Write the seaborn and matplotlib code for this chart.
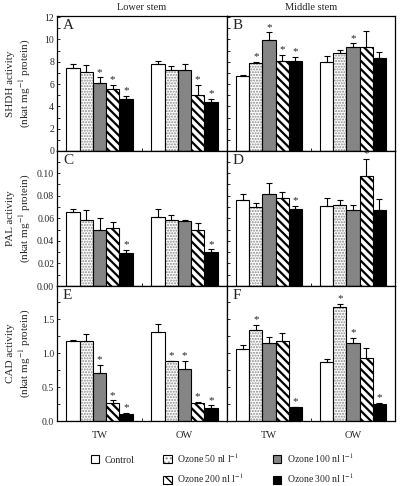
import numpy as np
import pandas as pd
import matplotlib
matplotlib.use("Agg")
import matplotlib.pyplot as plt
import seaborn as sns
from matplotlib.patches import Rectangle, Patch
from matplotlib.legend_handler import HandlerTuple
from matplotlib.ticker import MultipleLocator, FixedLocator

# ---------------- data ----------------
treatments = ["Control", "Ozone 50", "Ozone 100", "Ozone 200", "Ozone 300"]
legend_labels = ["Control", "Ozone 50 nl l$^{-1}$", "Ozone 100 nl l$^{-1}$",
                 "Ozone 200 nl l$^{-1}$", "Ozone 300 nl l$^{-1}$"]
woods = ["TW", "OW"]
columns_titles = ["Lower stem", "Middle stem"]

# Panel A: SHDH, lower stem
A_tw = [7.48, 7.05, 6.06, 5.52, 4.70]
A_tw_err = [0.30, 0.64, 0.54, 0.42, 0.21]
A_ow = [7.84, 7.27, 7.30, 5.00, 4.40]
A_ow_err = [0.21, 0.33, 0.54, 0.94, 0.27]
A_tw_sig = [0, 0, 1, 1, 1]
A_ow_sig = [0, 0, 0, 1, 1]

# Panel B: SHDH, middle stem
B_tw = [6.69, 7.87, 9.92, 8.05, 8.08]
B_tw_err = [0.12, 0.09, 0.72, 0.54, 0.36]
B_ow = [7.96, 8.74, 9.32, 9.29, 8.38]
B_ow_err = [0.51, 0.33, 0.33, 1.50, 0.51]
B_tw_sig = [0, 1, 1, 1, 1]
B_ow_sig = [0, 0, 1, 0, 0]

# Panel C: PAL, lower stem
C_tw = [0.0658, 0.0586, 0.0500, 0.0512, 0.0292]
C_tw_err = [0.0027, 0.0083, 0.0104, 0.0056, 0.0027]
C_ow = [0.0610, 0.0586, 0.0574, 0.0500, 0.0298]
C_ow_err = [0.0075, 0.0040, 0.0006, 0.0054, 0.0027]
C_tw_sig = [0, 0, 0, 0, 1]
C_ow_sig = [0, 0, 0, 0, 1]

# Panel D: PAL, middle stem
D_tw = [0.0762, 0.0696, 0.0810, 0.0783, 0.0679]
D_tw_err = [0.0050, 0.0042, 0.0104, 0.0048, 0.0033]
D_ow = [0.0705, 0.0720, 0.0676, 0.0973, 0.0670]
D_ow_err = [0.0077, 0.0042, 0.0039, 0.0149, 0.0098]
D_tw_sig = [0, 0, 0, 0, 1]
D_ow_sig = [0, 0, 0, 1, 0]

# Panel E: CAD, lower stem
E_tw = [1.185, 1.185, 0.703, 0.270, 0.103]
E_tw_err = [0.010, 0.100, 0.120, 0.035, 0.020]
E_ow = [1.313, 0.880, 0.762, 0.260, 0.190]
E_ow_err = [0.110, 0.010, 0.120, 0.025, 0.040]
E_tw_sig = [0, 0, 1, 1, 1]
E_ow_sig = [0, 1, 1, 1, 1]

# Panel F: CAD, middle stem
F_tw = [1.062, 1.343, 1.146, 1.176, 0.200]
F_tw_err = [0.064, 0.074, 0.098, 0.118, 0.010]
F_ow = [0.866, 1.682, 1.156, 0.935, 0.256]
F_ow_err = [0.049, 0.045, 0.064, 0.142, 0.015]
F_tw_sig = [0, 1, 0, 0, 1]
F_ow_sig = [0, 1, 1, 0, 1]

panels = [
    ("A", A_tw, A_tw_err, A_ow, A_ow_err, A_tw_sig, A_ow_sig),
    ("B", B_tw, B_tw_err, B_ow, B_ow_err, B_tw_sig, B_ow_sig),
    ("C", C_tw, C_tw_err, C_ow, C_ow_err, C_tw_sig, C_ow_sig),
    ("D", D_tw, D_tw_err, D_ow, D_ow_err, D_tw_sig, D_ow_sig),
    ("E", E_tw, E_tw_err, E_ow, E_ow_err, E_tw_sig, E_ow_sig),
    ("F", F_tw, F_tw_err, F_ow, F_ow_err, F_tw_sig, F_ow_sig),
]
row_ylabels = ["SHDH activity\n(nkat mg$^{-1}$ protein)",
               "PAL activity\n(nkat mg$^{-1}$ protein)",
               "CAD activity\n(nkat mg$^{-1}$ protein)"]
row_ylims = [(0, 12.1), (0, 0.1195), (0, 1.99)]
row_major = [2, 0.02, 0.5]
row_minor = [1, 0.01, 0.25]
row_fmt = ["{:.0f}", "{:.2f}", "{:.1f}"]

# ---------------- style ----------------
sns.set_theme(style="ticks")
plt.rcParams["font.family"] = ["Liberation Serif", "DejaVu Serif"]
plt.rcParams["mathtext.fontset"] = "stix"
plt.rcParams["hatch.linewidth"] = 1.0

face = {"Control": "white", "Ozone 50": "white", "Ozone 100": "#858585",
        "Ozone 200": "white", "Ozone 300": "black"}
W, H = 400, 486
fig = plt.figure(figsize=(W / 100, H / 100), dpi=100)

lefts = [57, 227]
rights = [227, 395]
tops = [16, 151, 286]
bots = [151, 286, 421]


def style_bar(bar, t, ax):
    if t == "Ozone 50":
        bar.set_facecolor("white")
        bar.set_edgecolor("#8a8a8a")
        bar.set_hatch("......")
        bar.set_linewidth(0)
        ax.add_patch(Rectangle(bar.get_xy(), bar.get_width(), bar.get_height(),
                               fill=False, ec="black", lw=0.8, zorder=bar.get_zorder() + 0.1))
    elif t == "Ozone 200":
        bar.set_facecolor("white")
        bar.set_edgecolor("black")
        bar.set_hatch("\\\\\\\\")
        if hasattr(bar, "set_hatch_linewidth"):
            bar.set_hatch_linewidth(1.6)
    else:
        bar.set_facecolor(face[t])
        bar.set_edgecolor("black")


for idx, (letter, tw, twe, ow, owe, tws, ows) in enumerate(panels):
    r, c = divmod(idx, 2)
    ax = fig.add_axes([lefts[c] / W, 1 - bots[r] / H,
                       (rights[c] - lefts[c]) / W, (bots[r] - tops[r]) / H])
    df = pd.DataFrame({
        "wood": np.repeat(woods, len(treatments)),
        "treatment": treatments * 2,
        "value": list(tw) + list(ow),
    })
    sns.barplot(data=df, x="wood", y="value", hue="treatment", order=woods,
                hue_order=treatments, width=0.78, errorbar=None, ax=ax,
                legend=False, saturation=1, palette=face, edgecolor="black",
                linewidth=0.8)
    errs = [twe, owe]
    sigs = [tws, ows]
    ymax = row_ylims[r][1]
    bar_conts = list(ax.containers)
    for ti, cont in enumerate(bar_conts):
        t = treatments[ti]
        for wi, bar in enumerate(cont):
            style_bar(bar, t, ax)
            x = bar.get_x() + bar.get_width() / 2
            y = bar.get_height()
            e = errs[wi][ti]
            ax.errorbar([x], [y], yerr=[[0], [e]], fmt="none", ecolor="black",
                        elinewidth=0.8, capsize=2.2, capthick=0.8, zorder=5)
            if sigs[wi][ti]:
                ax.text(x, y + e + ymax * 0.005, "*", ha="center", va="bottom",
                        fontsize=8, zorder=6)

    ax.set_xlim(-0.5, 1.5)
    ax.set_ylim(*row_ylims[r])
    ax.yaxis.set_major_locator(MultipleLocator(row_major[r]))
    ax.yaxis.set_minor_locator(MultipleLocator(row_minor[r]))
    ax.xaxis.set_minor_locator(FixedLocator([0.5]))
    ax.tick_params(axis="both", which="both", direction="in", labelsize=7,
                   pad=2, top=False, right=False)
    ax.tick_params(axis="y", which="major", length=2.5, width=0.7)
    ax.tick_params(axis="y", which="minor", length=1.8, width=0.7)
    ax.tick_params(axis="x", which="major", length=0)
    ax.tick_params(axis="x", which="minor", length=2.5, width=0.7)
    for sp in ax.spines.values():
        sp.set_visible(True)
        sp.set_linewidth(0.9)
        sp.set_color("black")
    ax.set_xlabel("")
    if r < 2:
        ax.set_xticklabels([])
    else:
        ax.tick_params(axis="x", which="major", pad=7, labelsize=7.5)
    if c == 0:
        ax.yaxis.set_major_formatter(
            matplotlib.ticker.FuncFormatter(lambda v, p, f=row_fmt[r]: f.format(v)))
        ax.set_ylabel(row_ylabels[r], fontsize=8, linespacing=1.3)
        ax.yaxis.set_label_coords(-0.14, 0.5)
    else:
        ax.set_yticklabels([])
        ax.set_ylabel("")
    ax.text(0.035, 0.975, letter, transform=ax.transAxes, ha="left", va="top",
            fontsize=11)
    if r == 0:
        ax.set_title(columns_titles[c], fontsize=7.5, pad=4)

# ---------------- legend ----------------
handles = []
for t in treatments:
    if t == "Ozone 50":
        h = (Patch(facecolor="white", edgecolor="#8a8a8a", hatch="....", lw=0),
             Patch(facecolor="none", edgecolor="black", lw=0.8))
    elif t == "Ozone 200":
        h = (Patch(facecolor="white", edgecolor="black", hatch="\\\\\\", lw=0.8),)
    else:
        h = (Patch(facecolor=face[t], edgecolor="black", lw=0.8),)
    handles.append(h)
blank = Patch(facecolor="none", edgecolor="none")
order_h = [handles[0], (blank,), handles[1], handles[3], handles[2], handles[4]]
order_l = [legend_labels[0], "", legend_labels[1], legend_labels[3],
           legend_labels[2], legend_labels[4]]
fig.legend(order_h, order_l, ncol=3, loc="upper left",
           bbox_to_anchor=(91 / W, 1 - 451 / H), frameon=False, fontsize=7,
           handlelength=0.85, handleheight=0.85, handletextpad=0.6,
           columnspacing=2.9, labelspacing=0.7, borderpad=0, borderaxespad=0,
           handler_map={tuple: HandlerTuple(ndivide=1, pad=0)})

fig.savefig("out.png", dpi=100)
